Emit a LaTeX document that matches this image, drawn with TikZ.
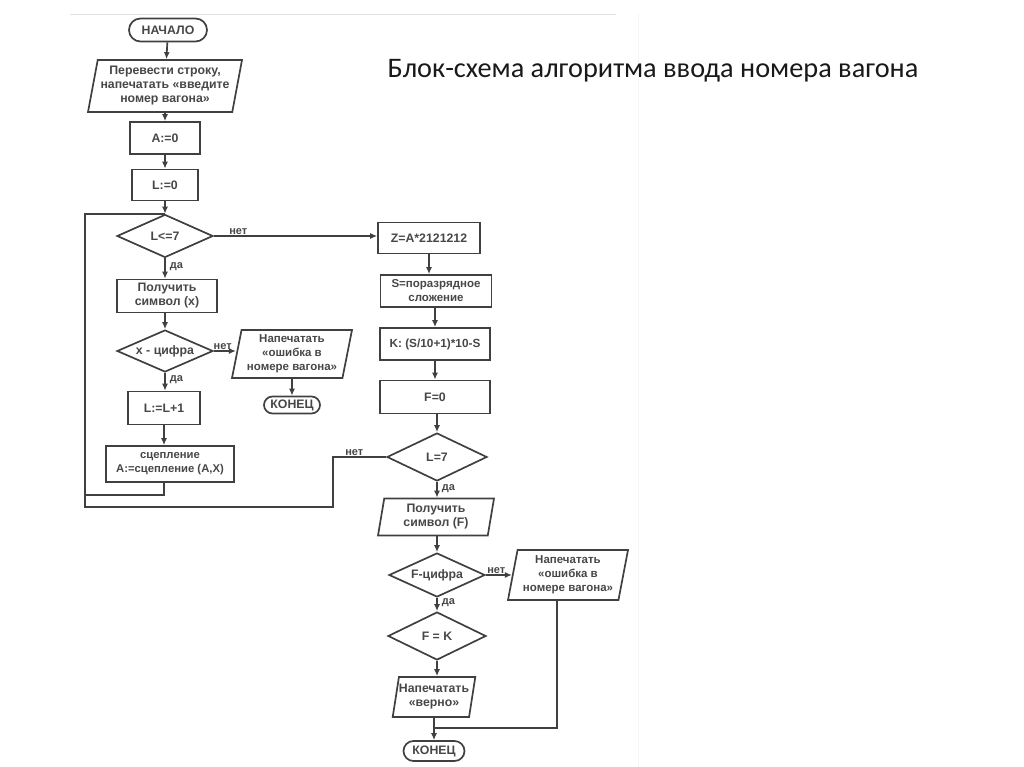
\documentclass[tikz,border=0pt]{standalone}
\usepackage{fontspec}
\setmainfont{Liberation Sans}
\newfontfamily\capfont{Carlito}
\usetikzlibrary{shapes.geometric,shapes.misc,arrows.meta}
\begin{document}
\begin{tikzpicture}[x=1pt,y=-1pt,
  every node/.style={font=\fontsize{12.3}{14}\selectfont\bfseries, text=black!72},
  ln/.style={draw=black!75, line width=1.7pt},
  arr/.style={ln, -{Latex[length=7pt,width=6pt]}},
  term/.style={ln, rounded rectangle, inner sep=2pt, align=center},
  proc/.style={ln, rectangle, align=center, inner sep=1pt},
  io/.style={ln, trapezium, trapezium left angle=76, trapezium right angle=104,
    trapezium stretches body, align=center, inner sep=0pt},
  dec/.style={ln, diamond, inner sep=0pt, label={center:#1}},
  lbl/.style={font=\fontsize{11}{12}\selectfont\bfseries, inner sep=1pt},
  lblr/.style={lbl, right, xshift=3pt}
]
\useasboundingbox (0,0) rectangle (1024,767);
\draw[black!12, line width=0.8pt] (70,14) -- (616,14);
\draw[black!4, line width=0.8pt] (638,14) -- (638,767);

\node[font=\fontsize{28.3}{32}\selectfont\capfont, text=black!90] (cap) at (653,71) {Блок-схема алгоритма ввода номера вагона};

% left column
\node[term, minimum width=82pt, minimum height=23pt] (st) at (168,30) {НАЧАЛО};
\node[io, minimum width=154pt, minimum height=52pt] (p1) at (165,86) {Перевести строку,\\напечатать «введите\\номер вагона»};
\node[proc, minimum width=70pt, minimum height=32pt] (a0) at (165,138) {A:=0};
\node[proc, minimum width=66pt, minimum height=31pt] (l0) at (165,185) {L:=0};
\node[dec={L<=7}, minimum width=96pt, minimum height=43pt] (d1) at (165,236) {};
\node[proc, minimum width=100pt, minimum height=33pt] (g1) at (167,296) {Получить\\символ (x)};
\node[dec={x - цифра}, minimum width=96pt, minimum height=42pt] (d2) at (165,351) {};
\node[io, minimum width=120pt, minimum height=48pt, font=\fontsize{11.5}{14}\selectfont\bfseries] (e1) at (292,354) {Напечатать\\«ошибка в\\номере вагона»};
\node[term, minimum width=58pt, minimum height=17pt, inner sep=1pt] (en1) at (292,405) {КОНЕЦ};
\node[proc, minimum width=72pt, minimum height=33pt] (inc) at (164,408) {L:=L+1};
\node[proc, minimum width=128pt, minimum height=36pt, font=\fontsize{11.3}{14}\selectfont\bfseries] (cat) at (170,464) {сцепление\\A:=сцепление (A,X)};

% right column
\node[proc, minimum width=102pt, minimum height=31pt] (z) at (429,238) {Z=A*2121212};
\node[proc, minimum width=111pt, minimum height=32pt, font=\fontsize{11.5}{14}\selectfont\bfseries] (s) at (436,291) {S=поразрядное\\сложение};
\node[proc, minimum width=110pt, minimum height=32pt, font=\fontsize{11.8}{14}\selectfont\bfseries] (k) at (435,344) {K: (S/10+1)*10-S};
\node[proc, minimum width=110pt, minimum height=33pt] (f0) at (435,397) {F=0};
\node[dec={L=7}, minimum width=100pt, minimum height=48pt] (d3) at (437,457) {};
\node[io, minimum width=116pt, minimum height=37pt] (g2) at (436,517) {Получить\\символ (F)};
\node[dec={F-цифра}, minimum width=96pt, minimum height=44pt] (d4) at (437,575) {};
\node[io, minimum width=120pt, minimum height=50pt, font=\fontsize{11.5}{14}\selectfont\bfseries] (e2) at (568,575) {Напечатать\\«ошибка в\\номере вагона»};
\node[dec={F = K}, minimum width=98pt, minimum height=48pt] (d5) at (437,636) {};
\node[io, minimum width=80pt, minimum height=40pt] (ok) at (434,697) {Напечатать\\«верно»};
\node[term, minimum width=63pt, minimum height=20pt, inner sep=1pt] (en2) at (434,751) {КОНЕЦ};

% coordinates for loops
\coordinate (lm) at (85,495);
\coordinate (lb) at (85,507);
\coordinate (lt) at (85,214);
\coordinate (ja) at (d1.north |- lt);
\coordinate (c2) at (333,507);
\coordinate (rj) at (557,728);
\coordinate (mj) at (en2.north |- rj);

% connectors left
\draw[arr] (st) -- (p1);
\draw[arr] (p1) -- (a0);
\draw[arr] (a0) -- (l0);
\draw[arr] (l0) -- (d1);
\draw[arr] (d1.east) -- node[lbl, above, pos=0.15] {нет} (z.west |- d1.east);
\draw[arr] (d1.south) -- node[lblr, pos=0.4] {да} (g1.north -| d1.south);
\draw[arr] (g1.south -| d2.north) -- (d2.north);
\draw[arr] (d2.east) -- node[lbl, above, pos=0.4] {нет} (e1.west |- d2.east);
\draw[arr] (e1.south -| en1.north) -- (en1.north);
\draw[arr] (d2.south) -- node[lblr, pos=0.4] {да} (inc.north -| d2.south);
\draw[arr] (inc.south) -- (cat.north -| inc.south);
\draw[ln] (cat.south -| inc.south) |- (lm);
\draw[ln] (d3.west) -| node[lbl, above, pos=0.3] {нет} (c2) -- (lb) -- (lt) -- (ja);

% connectors right
\draw[arr] (z.south) -- (s.north -| z.south);
\draw[arr] (s.south -| k.north) -- (k.north);
\draw[arr] (k) -- (f0);
\draw[arr] (f0.south -| d3.north) -- (d3.north);
\draw[arr] (d3.south) -- node[lblr, pos=0.4] {да} (g2.north -| d3.south);
\draw[arr] (g2.south -| d4.north) -- (d4.north);
\draw[arr] (d4.east) -- node[lbl, above, pos=0.4] {нет} (e2.west |- d4.east);
\draw[arr] (d4.south) -- node[lblr, pos=0.35] {да} (d5.north);
\draw[arr] (d5.south) -- (ok.north -| d5.south);
\draw[arr] (ok.south -| en2.north) -- (en2.north);
\draw[ln] (rj |- e2.south) -- (rj) -- (mj);
\end{tikzpicture}
\end{document}
